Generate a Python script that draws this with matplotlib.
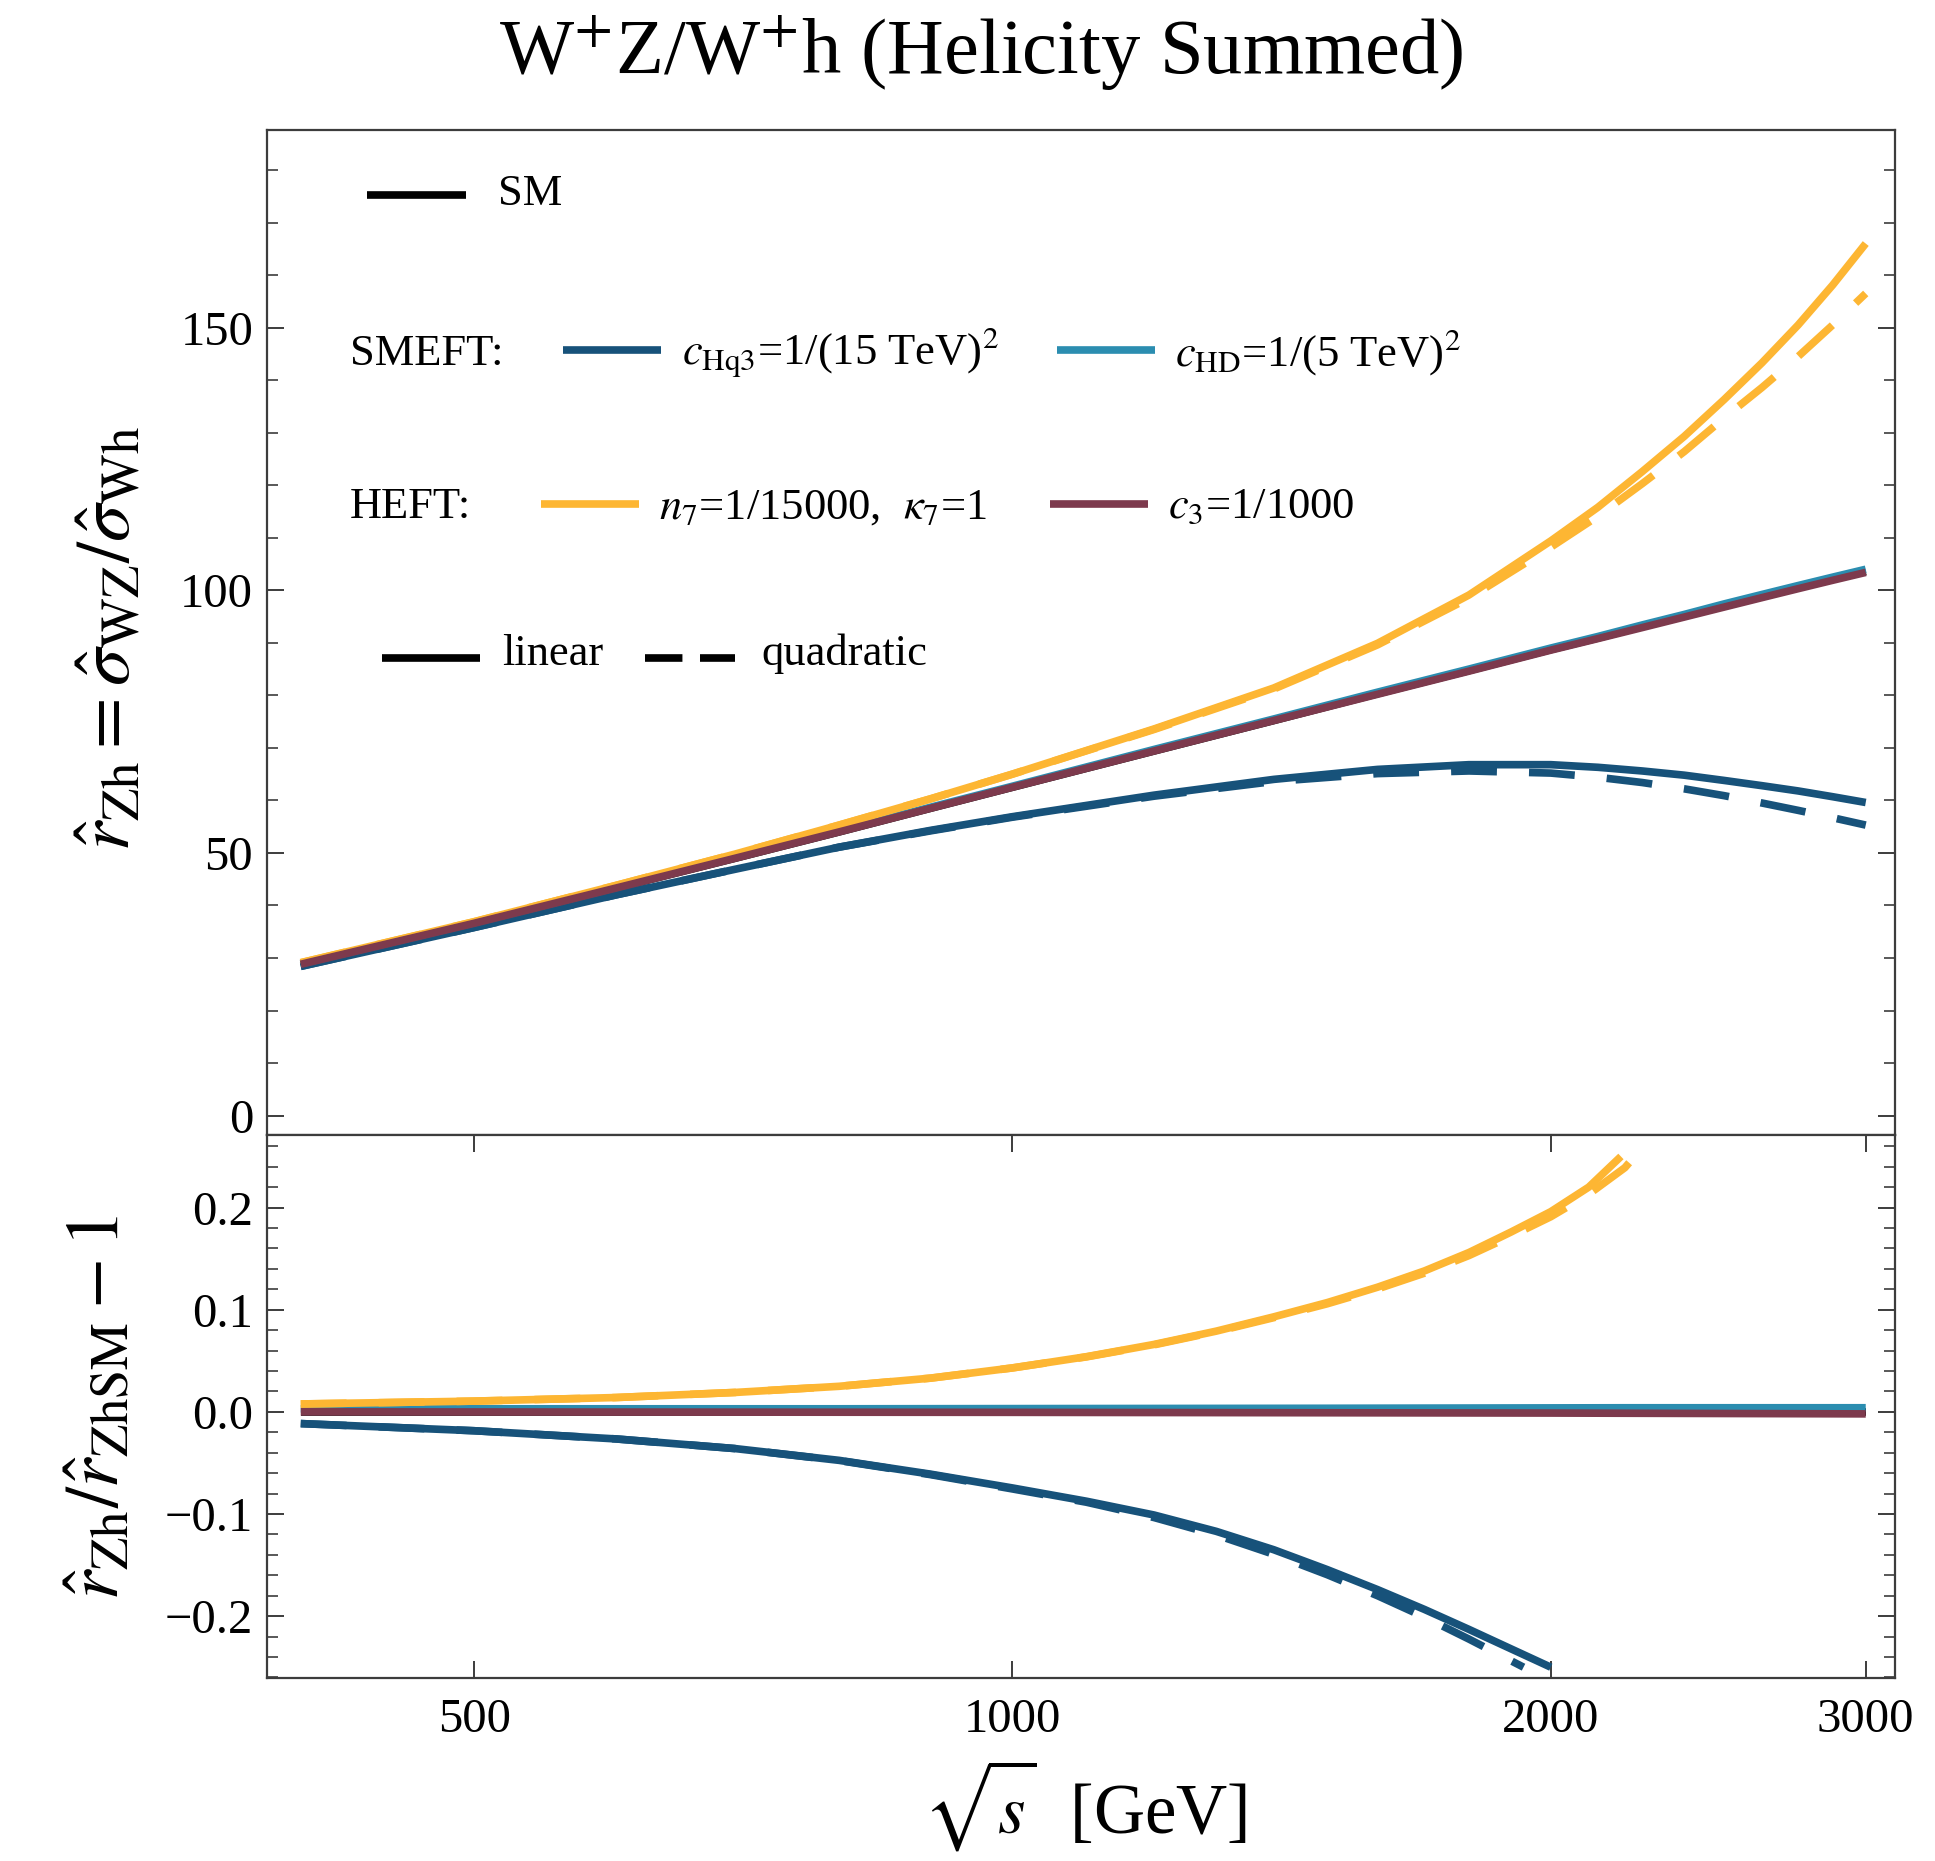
import matplotlib
matplotlib.use("Agg")
import matplotlib.pyplot as plt
from matplotlib.ticker import FixedLocator, MultipleLocator, NullLocator, FixedFormatter, FuncFormatter

plt.rcParams['font.family'] = ['Liberation Serif', 'DejaVu Serif']
plt.rcParams['mathtext.fontset'] = 'stix'
plt.rcParams['axes.unicode_minus'] = True

# ---------------- data ----------------
energy_top = [400, 500, 600, 700, 800, 900, 1000, 1200, 1400, 1600, 1800, 2000, 2125, 2250, 2375, 2500,
              2625, 2750, 2875, 3000]
r_sm       = [28.8, 36.6, 43.3, 49.0, 54.0, 58.5, 62.5, 69.4, 75.2, 80.3, 84.7, 88.7, 90.9, 93.1, 95.1, 97.0,
              98.8, 100.5, 102.1, 103.6]
r_c3       = [28.8, 36.6, 43.3, 49.0, 54.0, 58.5, 62.5, 69.4, 75.2, 80.2, 84.6, 88.6, 90.8, 92.9, 94.9, 96.8,
              98.6, 100.3, 101.9, 103.4]
r_chd      = [28.9, 36.7, 43.4, 49.2, 54.2, 58.7, 62.7, 69.7, 75.5, 80.6, 85.0, 89.0, 91.2, 93.4, 95.4, 97.4,
              99.2, 100.9, 102.5, 104.0]
r_hq3_lin  = [28.4, 35.8, 42.0, 46.9, 51.1, 54.3, 56.9, 61.0, 64.0, 65.9, 66.8, 66.8, 66.3, 65.6, 64.8, 63.8,
              62.8, 61.8, 60.7, 59.6]
r_hq3_quad = [28.4, 35.8, 42.0, 46.9, 51.1, 54.2, 56.8, 60.8, 63.6, 65.1, 65.6, 65.2, 64.4, 63.4, 62.2, 60.9,
              59.5, 58.1, 56.7, 55.3]
r_n7_lin   = [29.1, 36.9, 43.8, 49.8, 55.3, 60.3, 65.0, 73.6, 81.4, 89.9, 99.1, 109.4, 115.8, 122.6, 129.3, 136.3,
              143.3, 150.5, 158.1, 166.0]
r_n7_quad  = [29.1, 36.9, 43.8, 49.8, 55.3, 60.3, 65.0, 73.5, 81.2, 89.6, 98.5, 108.2, 114.1, 120.3, 126.4, 132.8,
              138.6, 144.5, 150.5, 156.5]

energy_n7_lin  = [400, 500, 600, 700, 800, 900, 1000, 1100, 1200, 1300, 1400, 1500, 1600, 1700, 1800, 1900, 2000, 2100, 2189]
ratio_n7_lin   = [0.0077, 0.0105, 0.0140, 0.0190, 0.0250, 0.0330, 0.0430, 0.0540, 0.0660, 0.0790, 0.0930, 0.1070,
                  0.1220, 0.1380, 0.1560, 0.1760, 0.1960, 0.2200, 0.2500]
energy_n7_quad = [400, 500, 600, 700, 800, 900, 1000, 1100, 1200, 1300, 1400, 1500, 1600, 1700, 1800, 1900, 2000, 2100, 2200, 2228]
ratio_n7_quad  = [0.0077, 0.0105, 0.0140, 0.0190, 0.0250, 0.0330, 0.0430, 0.0538, 0.0656, 0.0785, 0.0922, 0.1058,
                  0.1203, 0.1358, 0.1530, 0.1720, 0.1910, 0.2130, 0.2390, 0.2500]
energy_hq3_lin  = [400, 500, 600, 700, 800, 900, 1000, 1100, 1200, 1300, 1400, 1500, 1600, 1700, 1800, 1900, 2000]
ratio_hq3_lin   = [-0.0115, -0.0185, -0.0265, -0.0360, -0.0475, -0.0610, -0.0745, -0.0875, -0.1010, -0.1170,
                   -0.1350, -0.1545, -0.1740, -0.1935, -0.2130, -0.2320, -0.2500]
energy_hq3_quad = [400, 500, 600, 700, 800, 900, 1000, 1100, 1200, 1300, 1400, 1500, 1600, 1700, 1800, 1931]
ratio_hq3_quad  = [-0.0115, -0.0185, -0.0265, -0.0360, -0.0477, -0.0615, -0.0755, -0.0885, -0.1035, -0.1205,
                   -0.1395, -0.1595, -0.1800, -0.2010, -0.2225, -0.2500]
energy_chd_ratio = [400, 800, 1500, 2200, 3000]
ratio_chd        = [0.0030, 0.0030, 0.0035, 0.0040, 0.0040]
energy_c3_ratio  = [400, 1000, 2000, 3000]
ratio_c3         = [0.0, -0.0005, -0.0012, -0.0020]
energy_sm_ratio  = [400, 3000]
ratio_sm         = [0.0, 0.0]

x_ticks = [500, 1000, 2000, 3000]
x_ticklabels = ["500", "1000", "2000", "3000"]
top_yticks = [0, 50, 100, 150]
bot_yticks = [-0.2, -0.1, 0.0, 0.1, 0.2]

# ---------------- style ----------------
C_HQ3 = '#17527a'
C_HD = '#2b8db0'
C_N7 = '#fdb633'
C_C3 = '#7d3a4d'
C_SM = '#000000'
LW = 5.5
DASH = (6, 4.2)
SPINE = '#3c3c3c'

fig = plt.figure(figsize=(19.35, 18.61), dpi=100)
ax1 = fig.add_axes([0.1380, 0.3901, 0.8413, 0.5400])
ax2 = fig.add_axes([0.1380, 0.0981, 0.8413, 0.2920])

common = dict(solid_capstyle='butt', dash_capstyle='butt', solid_joinstyle='round')

# top panel
ax1.plot(energy_top, r_sm, color=C_SM, lw=LW, **common)
ax1.plot(energy_top, r_hq3_lin, color=C_HQ3, lw=LW, **common)
ax1.plot(energy_top, r_hq3_quad, color=C_HQ3, lw=LW, dashes=DASH, **common)
ax1.plot(energy_top, r_chd, color=C_HD, lw=LW, **common)
ax1.plot(energy_top, r_n7_lin, color=C_N7, lw=LW, **common)
ax1.plot(energy_top, r_n7_quad, color=C_N7, lw=LW, dashes=DASH, **common)
ax1.plot(energy_top, r_c3, color=C_C3, lw=LW, **common)

# bottom panel
ax2.plot(energy_sm_ratio, ratio_sm, color=C_SM, lw=LW, **common)
ax2.plot(energy_chd_ratio, ratio_chd, color=C_HD, lw=LW, **common)
ax2.plot(energy_hq3_lin, ratio_hq3_lin, color=C_HQ3, lw=LW, **common)
ax2.plot(energy_hq3_quad, ratio_hq3_quad, color=C_HQ3, lw=LW, dashes=DASH, **common)
ax2.plot(energy_n7_lin, ratio_n7_lin, color=C_N7, lw=LW, **common)
ax2.plot(energy_n7_quad, ratio_n7_quad, color=C_N7, lw=LW, dashes=DASH, **common)
ax2.plot(energy_c3_ratio, ratio_c3, color=C_C3, lw=LW, **common)

for ax in (ax1, ax2):
    ax.set_xscale('log')
    ax.set_xlim(383, 3115)
    ax.xaxis.set_major_locator(FixedLocator(x_ticks))
    ax.xaxis.set_minor_locator(NullLocator())
    for s in ax.spines.values():
        s.set_color(SPINE)
        s.set_linewidth(1.6)
    ax.tick_params(which='major', direction='in', length=12, width=1.4, color=SPINE,
                   labelsize=35, pad=10)
    ax.tick_params(which='minor', direction='in', length=8, width=1.2, color=SPINE)

ax1.set_ylim(-3.7, 187.6)
ax1.yaxis.set_major_locator(FixedLocator(top_yticks))
ax1.yaxis.set_major_formatter(FixedFormatter([str(v) for v in top_yticks]))
ax1.yaxis.set_minor_locator(MultipleLocator(10))
ax1.tick_params(axis='y', which='both', left=True, right=True)
ax1.tick_params(axis='x', which='both', bottom=False, top=False, labelbottom=False)

ax2.set_ylim(-0.261, 0.271)
ax2.yaxis.set_major_locator(FixedLocator(bot_yticks))
ax2.yaxis.set_major_formatter(FuncFormatter(
    lambda v, p: ("%.1f" % abs(v)) if abs(v) < 1e-9 else ("%.1f" % v).replace('-', '\u2212')))
ax2.yaxis.set_minor_locator(MultipleLocator(0.02))
ax2.tick_params(axis='y', which='both', left=True, right=True)
ax2.tick_params(axis='x', which='both', bottom=True, top=True)
ax2.xaxis.set_major_formatter(FixedFormatter(x_ticklabels))
ax2.tick_params(axis='x', pad=14)

# ---------------- legend (drawn manually inside top panel) ----------------
T = ax1.transAxes
LEG_FS = 32

def leg_line(x0, x1, y, color, dashes=None):
    kw = dict(transform=T, color=color, lw=LW, solid_capstyle='butt', dash_capstyle='butt',
              clip_on=False)
    if dashes is not None:
        kw['dashes'] = dashes
    ax1.plot([x0, x1], [y, y], **kw)

leg_line(0.0614, 0.1222, 0.9353, C_SM)
ax1.text(0.1419, 0.9254, "SM", transform=T, fontsize=LEG_FS, va='baseline')

ax1.text(0.0510, 0.7662, "SMEFT:", transform=T, fontsize=LEG_FS, va='baseline')
leg_line(0.1818, 0.2420, 0.7811, C_HQ3)
ax1.text(0.2547, 0.7662, r"$c_{\mathrm{Hq3}}$=1/(15 TeV)$^{2}$", transform=T, fontsize=LEG_FS, va='baseline')
leg_line(0.4850, 0.5455, 0.7811, C_HD)
ax1.text(0.5577, 0.7662, r"$c_{\mathrm{HD}}$=1/(5 TeV)$^{2}$", transform=T, fontsize=LEG_FS, va='baseline')

ax1.text(0.0510, 0.6139, "HEFT:", transform=T, fontsize=LEG_FS, va='baseline')
leg_line(0.1683, 0.2285, 0.6279, C_N7)
ax1.text(0.2408, 0.6139, r"$n_{7}$=1/15000,  $\kappa_{7}$=1", transform=T, fontsize=LEG_FS, va='baseline')
leg_line(0.4810, 0.5409, 0.6279, C_C3)
ax1.text(0.5534, 0.6139, r"$c_{3}$=1/1000", transform=T, fontsize=LEG_FS, va='baseline')

leg_line(0.0706, 0.1308, 0.4749, C_SM)
ax1.text(0.1443, 0.4677, "linear", transform=T, fontsize=LEG_FS, va='baseline')
leg_line(0.2319, 0.2875, 0.4749, C_SM, dashes=(4.9, 2.3))
ax1.text(0.3037, 0.4677, "quadratic", transform=T, fontsize=LEG_FS, va='baseline')

# ---------------- titles / labels ----------------
fig.text(0.507, 0.960, r"W$^{+}$Z/W$^{+}$h (Helicity Summed)", ha='center', va='baseline', fontsize=56.5)
fig.text(0.561, 0.0145, r"$\sqrt{s}$  [GeV]", ha='center', va='baseline', fontsize=51)
fig.text(0.058, 0.657, r"$\hat{r}_{\mathrm{Zh}}=\hat{\sigma}_{\mathrm{WZ}}/\hat{\sigma}_{\mathrm{Wh}}$",
         rotation=90, ha='center', va='center', fontsize=54)
fig.text(0.052, 0.244, r"$\hat{r}_{\mathrm{Zh}}/\hat{r}_{\mathrm{ZhSM}}-1$",
         rotation=90, ha='center', va='center', fontsize=54)

fig.savefig("out.png", dpi=100, facecolor='white')
